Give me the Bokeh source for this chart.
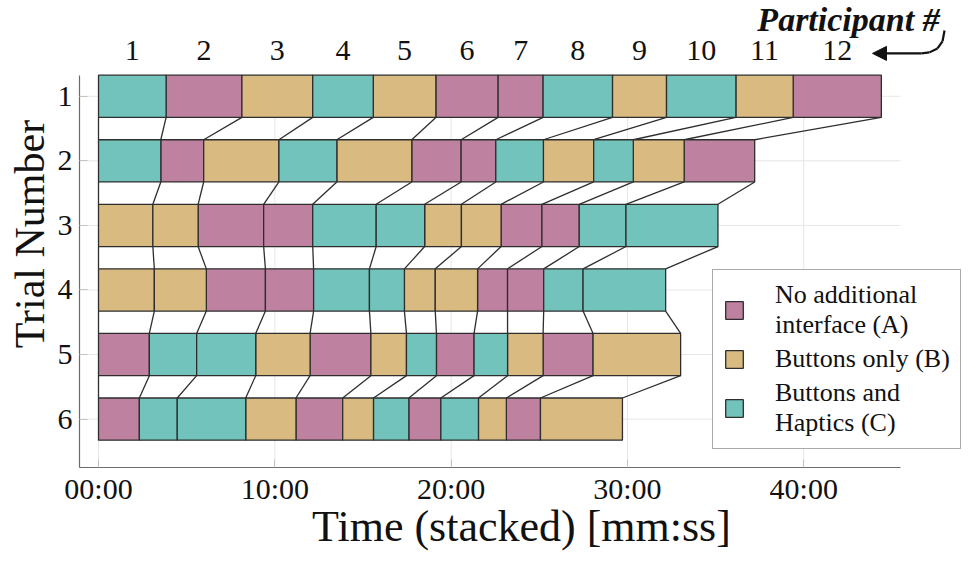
import numpy as np
from bokeh.plotting import figure
from bokeh.models import (ColumnDataSource, Range1d, FixedTicker,
                          Legend, LegendItem, Label, Arrow, NormalHead)
from bokeh.embed import file_html
from bokeh.resources import INLINE

# ---------------- data ----------------
participants = [str(i) for i in range(1, 13)]
trials = [1, 2, 3, 4, 5, 6]

# task durations in seconds, participant 1..12 (stacked in that order)
dur_t1 = [230, 258, 241, 206, 213, 212, 153, 236, 184, 236, 195, 300]
dur_t2 = [212, 146, 256, 197, 255, 168, 118, 162, 171, 135, 173, 240]
dur_t3 = [185, 154, 223, 167, 216, 165, 125, 135, 139, 127, 159, 313]
dur_t4 = [190, 177, 201, 164, 190, 119, 105, 144, 102, 123, 134, 281]
dur_t5 = [173, 161, 201, 185, 207, 121, 102, 128, 114, 121, 170, 298]
dur_t6 = [139, 129, 233, 171, 159, 105, 120, 109, 128, 95, 116, 279]

# condition of each participant in each trial
cond_t1 = ["C", "A", "B", "C", "B", "A", "A", "C", "B", "C", "B", "A"]
cond_t2 = ["C", "A", "B", "C", "B", "A", "A", "C", "B", "C", "B", "A"]
cond_t3 = ["B", "B", "A", "A", "C", "C", "B", "B", "A", "A", "C", "C"]
cond_t4 = ["B", "B", "A", "A", "C", "C", "B", "B", "A", "A", "C", "C"]
cond_t5 = ["A", "C", "C", "B", "A", "B", "C", "A", "C", "B", "A", "B"]
cond_t6 = ["A", "C", "C", "B", "A", "B", "C", "A", "C", "B", "A", "B"]

conditions = ["A", "B", "C"]
cond_labels = ["No additional\ninterface (A)", "Buttons only (B)", "Buttons and\nHaptics (C)"]

x_ticks = [0, 600, 1200, 1800, 2400]
x_tick_labels = ["00:00", "10:00", "20:00", "30:00", "40:00"]

# ---------------- style ----------------
colors = {"A": "#BE82A0", "B": "#D9BB82", "C": "#72C3BB"}
EDGE = "#2e2e2e"
TXT = "#111111"
GRID = "#e6e6e6"
FONT = "Liberation Serif"
BAR_H = 0.654


# pixel position in the picture -> data position (used for layout only)
def X(px):
    return (px - 98) * 3.403


def Y(py):
    return 1 + (py - 96) / 64.7


durs = [dur_t1, dur_t2, dur_t3, dur_t4, dur_t5, dur_t6]
conds = [cond_t1, cond_t2, cond_t3, cond_t4, cond_t5, cond_t6]
cums = [np.concatenate([[0.0], np.cumsum(d)]) for d in durs]

W, H = 963, 553
FR_L, FR_R, FR_T, FR_B = 79, 963, 0, 468
p = figure(width=W, height=H, title=None,
           x_range=Range1d(X(FR_L), X(FR_R)), y_range=Range1d(Y(FR_B), Y(FR_T)),
           output_backend="svg", toolbar_location=None,
           min_border_left=FR_L, min_border_right=W - FR_R,
           min_border_top=FR_T, min_border_bottom=H - FR_B)
p.outline_line_color = None
p.background_fill_color = "white"
p.grid.visible = False

AX_X0, AX_X1 = X(FR_L), X(900)          # extent of the drawn x axis
AX_Y0, AX_Y1 = Y(75), Y(FR_B)           # extent of the drawn y axis

# grid lines at the axis ticks, limited to the axes box
p.segment(x0=x_ticks, x1=x_ticks, y0=[AX_Y0] * len(x_ticks), y1=[AX_Y1] * len(x_ticks),
          line_color=GRID, line_width=1)
p.segment(x0=[AX_X0] * len(trials), x1=[AX_X1] * len(trials), y0=trials, y1=trials,
          line_color=GRID, line_width=1)

# connectors between consecutive trials
cx0, cy0, cx1, cy1 = [], [], [], []
for t in range(5):
    for k in range(13):
        cx0.append(cums[t][k]); cy0.append(trials[t] + BAR_H / 2)
        cx1.append(cums[t + 1][k]); cy1.append(trials[t + 1] - BAR_H / 2)
p.segment(x0=cx0, y0=cy0, x1=cx1, y1=cy1, line_color=EDGE, line_width=1.3)

# bars, one renderer per condition
renderers = {}
for c in conditions:
    ys, ls, rs = [], [], []
    for t in range(6):
        for k in range(12):
            if conds[t][k] == c:
                ys.append(trials[t]); ls.append(cums[t][k]); rs.append(cums[t][k + 1])
    src = ColumnDataSource(dict(y=ys, left=ls, right=rs))
    renderers[c] = p.hbar(y="y", left="left", right="right", height=BAR_H, source=src,
                          fill_color=colors[c], line_color=EDGE, line_width=1.3)

# participant numbers above trial 1
mids = [float((cums[0][k] + cums[0][k + 1]) / 2) for k in range(12)]
p.text(x=mids, y=[Y(50)] * 12, text=participants, text_font=FONT,
       text_font_size="30px", text_align="center", text_baseline="middle",
       text_color=TXT)

# axes
p.xaxis.ticker = FixedTicker(ticks=x_ticks)
p.xaxis.major_label_overrides = {t: l for t, l in zip(x_ticks, x_tick_labels)}
p.yaxis.ticker = FixedTicker(ticks=trials)
p.xaxis.bounds = (AX_X0, AX_X1)
p.yaxis.bounds = (AX_Y1, AX_Y0)
for ax in (p.xaxis[0], p.yaxis[0]):
    ax.axis_line_color = "#6b6b6b"
    ax.axis_line_width = 1.2
    ax.major_tick_line_color = "#c4c4c4"
    ax.major_tick_in = 8
    ax.major_tick_out = 0
    ax.minor_tick_line_color = None
    ax.major_label_text_font = FONT
    ax.major_label_text_font_size = "30px"
    ax.major_label_text_color = TXT
    ax.axis_label_text_font = FONT
    ax.axis_label_text_font_style = "normal"
    ax.axis_label_text_color = TXT
p.xaxis.axis_label_text_font_size = "44px"
p.yaxis.axis_label_text_font_size = "42px"
p.xaxis.axis_label = "Time (stacked) [mm:ss]"
p.yaxis.axis_label = "Trial Number"
p.xaxis.major_label_standoff = 4
p.xaxis.axis_label_standoff = -6
p.yaxis.major_label_standoff = 7
p.yaxis.axis_label_standoff = 2

# "Participant #" note with its curved arrow
p.add_layout(Label(x=X(848), y=Y(19), text="Participant #", text_font=FONT,
                   text_font_style="bold italic", text_font_size="34px",
                   text_align="center", text_baseline="middle", text_color=TXT))
pts = [(944, 30), (942, 41), (937, 48), (929, 52), (921, 53)]
for (ax_, ay_), (bx_, by_) in zip(pts[:-1], pts[1:]):
    p.add_layout(Arrow(x_start=X(ax_), y_start=Y(ay_), x_end=X(bx_), y_end=Y(by_),
                       end=None, line_color=TXT, line_width=2.2))
p.add_layout(Arrow(x_start=X(921), y_start=Y(53), x_end=X(872), y_end=Y(53),
                   end=NormalHead(size=14, fill_color=TXT, line_color=TXT),
                   line_color=TXT, line_width=2.2))

# legend
legend = Legend(items=[LegendItem(label=lbl, renderers=[renderers[c]])
                       for c, lbl in zip(conditions, cond_labels)],
                location=(712 - FR_L, FR_B - 450))
legend.label_text_font = FONT
legend.label_text_font_size = "26px"
legend.label_text_line_height = 0.85
legend.label_text_align = "center"
legend.label_text_color = TXT
legend.glyph_width = 22
legend.glyph_height = 22
legend.label_standoff = 30
legend.padding = 10
legend.spacing = 4
legend.margin = 0
legend.border_line_color = "#555555"
legend.border_line_width = 1.5
legend.background_fill_alpha = 1.0
p.add_layout(legend)

open("out.html", "w").write(file_html(p, INLINE))
